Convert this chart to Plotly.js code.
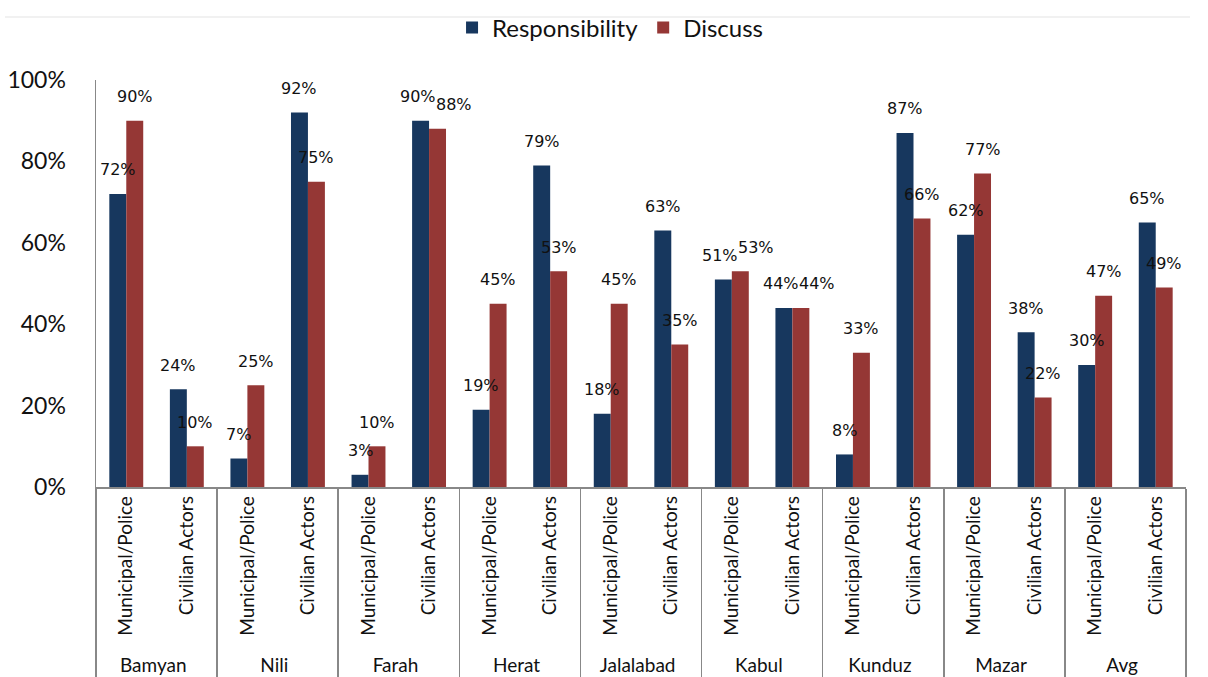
<!DOCTYPE html>
<html>
<head>
<meta charset="utf-8">
<script src="https://cdn.plot.ly/plotly-3.0.1.min.js"></script>
<style>html,body{margin:0;padding:0;background:#fff;}#chart{width:1208px;height:677px;}</style>
</head>
<body>
<div id="chart"></div>
<script>
const cities = ['Bamyan','Nili','Farah','Herat','Jalalabad','Kabul','Kunduz','Mazar','Avg'];
const groups = ['Municipal/Police','Civilian Actors'];
const responsibility = [72,24, 7,92, 3,90, 19,79, 18,63, 51,44, 8,87, 62,38, 30,65];
const discuss        = [90,10, 25,75, 10,88, 45,53, 45,35, 53,44, 33,66, 77,22, 47,49];

const outer = [], inner = [];
cities.forEach(c => groups.forEach(g => { outer.push(c); inner.push(g); }));

const W = 1208, H = 677;
const margin = {l: 96, r: 22, t: 80, b: 190, autoexpand: false};
const bargap = 0.44;
const plotW = W - margin.l - margin.r;
const slot = plotW / outer.length;
const barW = slot * (1 - bargap) / 2;

const traces = [
  {type: 'bar', name: 'Responsibility', x: [outer, inner], y: responsibility, marker: {color: '#17375E'}, hoverinfo: 'skip'},
  {type: 'bar', name: 'Discuss', x: [outer, inner], y: discuss, marker: {color: '#953735'}, hoverinfo: 'skip'}
];

// data labels through the axis scale (category index + bar offset within group)
const annotations = [];
const lblFont = {family: 'DejaVu Sans', size: 16, color: '#111'};
responsibility.forEach((v, i) => {
  const d = discuss[i];
  const close = Math.abs(v - d) <= 3;
  annotations.push({x: i, y: v, xref: 'x', yref: 'y', text: v + '%', showarrow: false,
    xshift: -barW / 2 - (close ? 3 : 0), yshift: 24, yanchor: 'middle', font: lblFont});
  annotations.push({x: i, y: d, xref: 'x', yref: 'y', text: d + '%', showarrow: false,
    xshift: barW / 2 + (close ? 16 : 0), yshift: 24, yanchor: 'middle', font: lblFont});
});

const layout = {
  width: W, height: H,
  margin: margin,
  paper_bgcolor: '#fff', plot_bgcolor: '#fff',
  barmode: 'group', bargap: bargap, bargroupgap: 0,
  font: {family: 'Lato', color: '#111'},
  showlegend: true,
  legend: {orientation: 'h', x: 0.4716, xanchor: 'center', y: 1.128, yanchor: 'middle',
           bgcolor: 'rgba(0,0,0,0)', font: {family: 'Lato', size: 24, color: '#111'}, traceorder: 'normal'},
  xaxis: {type: 'multicategory', showline: true, linecolor: '#888', linewidth: 1.5,
          ticks: '', tickangle: -90, tickfont: {family: 'Lato', size: 19, color: '#111'},
          showdividers: true, dividercolor: '#888', dividerwidth: 1.5, showgrid: false},
  yaxis: {range: [0, 100], dtick: 20, ticksuffix: '%', showline: true, linecolor: '#888', linewidth: 1.5,
          showgrid: false, zeroline: false, ticks: '', ticklabelstandoff: 24,
          tickfont: {family: 'Lato', size: 23, color: '#111'}},
  annotations: annotations,
  shapes: [{type: 'line', xref: 'paper', yref: 'paper', x0: -0.0835, x1: 1.0037, y0: 1.1548, y1: 1.1548,
            line: {color: '#e3e3e3', width: 1}}]
};

Plotly.newPlot('chart', traces, layout, {displayModeBar: false, staticPlot: true});
</script>
</body>
</html>
